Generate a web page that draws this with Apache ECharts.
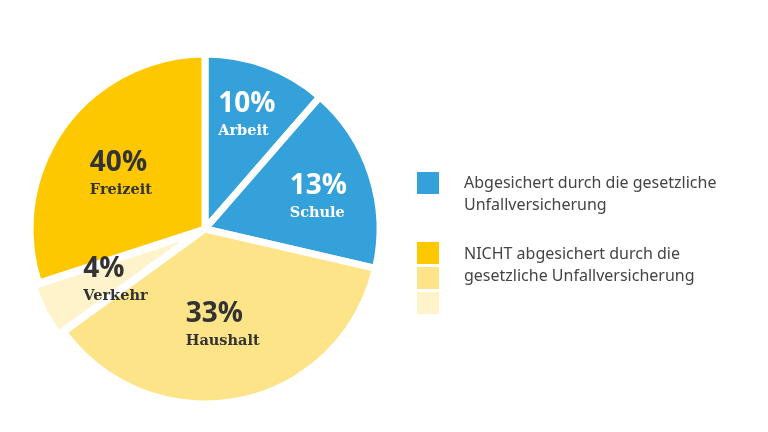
<!DOCTYPE html>
<html>
<head>
<meta charset="utf-8">
<script src="https://cdn.jsdelivr.net/npm/echarts@6/dist/echarts.min.js"></script>
<style>
  html, body { margin: 0; padding: 0; background: #fff; }
  #chart { width: 768px; height: 432px; }
</style>
</head>
<body>
<div id="chart"></div>
<script>
// Kategorien im Uhrzeigersinn ab 12 Uhr
var categories = ['Arbeit', 'Schule', 'Haushalt', 'Verkehr', 'Freizeit'];
// Beschriftete Anteile (Text im Bild)
var percentLabels = ['10%', '13%', '33%', '4%', '40%'];
// Sektorgrößen, wie sie im Bild gezeichnet sind (Winkel in Grad)
var sliceSizes = [41, 62, 131, 18, 108];
var sliceColors = ['#35a1db', '#35a1db', '#fde488', '#fff3cc', '#fdc800'];
var insured = [true, true, false, false, false];

var legendLines = [
  ['Abgesichert durch die gesetzliche', 'Unfallversicherung'],
  ['NICHT abgesichert durch die', 'gesetzliche Unfallversicherung']
];

var center = [205, 229];
// kleine Korrekturen der Beschriftungslage (px)
var labelNudge = [[5, 8], [-1, 9], [-3, -5], [8, 5], [6, 7]];

var chart = echarts.init(document.getElementById('chart'));

var pieData = categories.map(function (name, i) {
  return {
    name: name,
    value: sliceSizes[i],
    selected: name === 'Verkehr',
    itemStyle: { color: sliceColors[i] }
  };
});

// unsichtbare Ringe, nur um die Beschriftungen zu platzieren
function labelLayer(radius, show) {
  return {
    type: 'pie',
    silent: true,
    center: center,
    radius: [0, radius],
    startAngle: 90,
    clockwise: true,
    z: 5,
    itemStyle: { color: 'rgba(0,0,0,0)' },
    labelLine: { show: false },
    data: categories.map(function (name, i) {
      var txt = insured[i] ? '#ffffff' : '#333333';
      return {
        name: name,
        value: sliceSizes[i],
        label: {
          show: show(i),
          position: 'inside',
          offset: labelNudge[i],
          formatter: '{p|' + percentLabels[i] + '}\n{n|' + name + '}',
          rich: {
            p: {
              fontFamily: 'Open Sans',
              fontWeight: 'bold',
              fontSize: 28,
              lineHeight: 30,
              color: txt,
              width: 74,
              align: 'left'
            },
            n: {
              fontFamily: 'DejaVu Serif',
              fontWeight: 'bold',
              fontSize: 14.5,
              lineHeight: 24,
              color: txt,
              width: 74,
              align: 'left'
            }
          }
        }
      };
    })
  };
}

var graphics = [];
var squares = [
  { y: 172, color: '#35a1db' },
  { y: 242, color: '#fdc800' },
  { y: 267, color: '#fde488' },
  { y: 292, color: '#fff3cc' }
];
squares.forEach(function (s) {
  graphics.push({
    type: 'rect',
    shape: { x: 417, y: s.y, width: 22, height: 22 },
    style: { fill: s.color }
  });
});
[183, 254].forEach(function (y, k) {
  legendLines[k].forEach(function (line, j) {
    graphics.push({
      type: 'text',
      x: 464,
      y: y + j * 22,
      style: {
        text: line,
        fill: '#444444',
        font: '16px "Noto Sans"',
        verticalAlign: 'middle'
      }
    });
  });
});

chart.setOption({
  backgroundColor: '#ffffff',
  animation: false,
  graphic: graphics,
  series: [
    {
      type: 'pie',
      center: center,
      radius: [0, 175],
      startAngle: 90,
      clockwise: true,
      silent: true,
      selectedMode: 'multiple',
      selectedOffset: 6,
      label: { show: false },
      labelLine: { show: false },
      itemStyle: { borderColor: '#ffffff', borderWidth: 7 },
      data: pieData
    },
    labelLayer(252, function (i) { return insured[i]; }),
    labelLayer(202, function (i) { return !insured[i]; })
  ]
});
</script>
</body>
</html>
